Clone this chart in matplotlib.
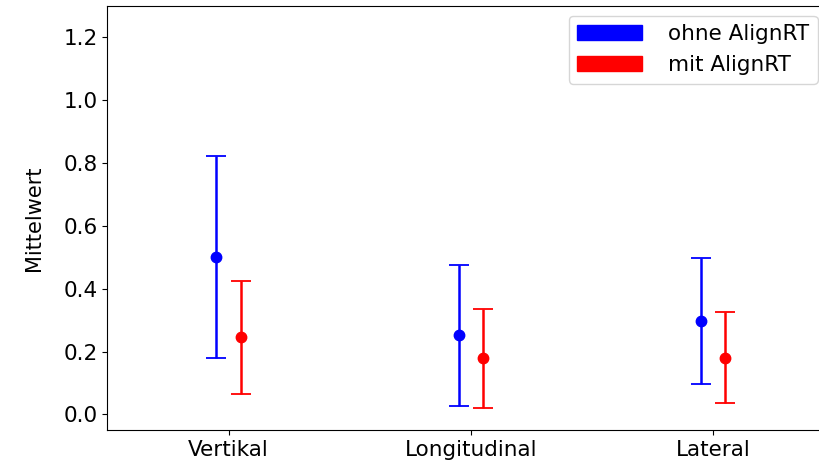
"""Mittelwert mit/ohne AlignRT."""
import numpy as np
import matplotlib; matplotlib.use("Agg")
import matplotlib.pyplot as plt
from matplotlib.patches import Patch

richtungen = ["Vertikal", "Longitudinal", "Lateral"]
ohne_mean = [0.50, 0.252, 0.298]
ohne_err = [0.322, 0.225, 0.20]
mit_mean = [0.245, 0.178, 0.18]
mit_err = [0.18, 0.158, 0.145]

fig = plt.figure(figsize=(8.2, 4.62), dpi=100)
# rechter Rand liegt knapp ausserhalb des Bildes (wie im Original)
ax = fig.add_axes([0.131, 0.069, 0.886, 0.918])

x = np.arange(len(richtungen))
ax.errorbar(x - 0.05, ohne_mean, yerr=ohne_err, fmt="o", color="blue",
            markersize=7.5, capsize=7, elinewidth=1.8, capthick=1.3)
ax.errorbar(x + 0.05, mit_mean, yerr=mit_err, fmt="o", color="red",
            markersize=7.5, capsize=7, elinewidth=1.8, capthick=1.3)

ax.set_xticks(x)
ax.set_xticklabels(richtungen, fontsize=15.5)
ax.set_xlim(-0.5, 2.5)
ax.set_ylim(-0.05, 1.3)
ax.set_yticks([0.0, 0.2, 0.4, 0.6, 0.8, 1.0, 1.2])
ax.tick_params(axis="y", labelsize=15.5)
ax.set_ylabel("Mittelwert", fontsize=15, labelpad=14)

handles = [Patch(color="blue", label="ohne AlignRT"),
           Patch(color="red", label="mit AlignRT")]
ax.legend(handles=handles, loc="upper right", fontsize=15.5,
          handlelength=3.0, handletextpad=1.2, borderaxespad=0,
          bbox_to_anchor=(0.997, 0.966), bbox_transform=fig.transFigure)

plt.savefig("out.png", dpi=100)
